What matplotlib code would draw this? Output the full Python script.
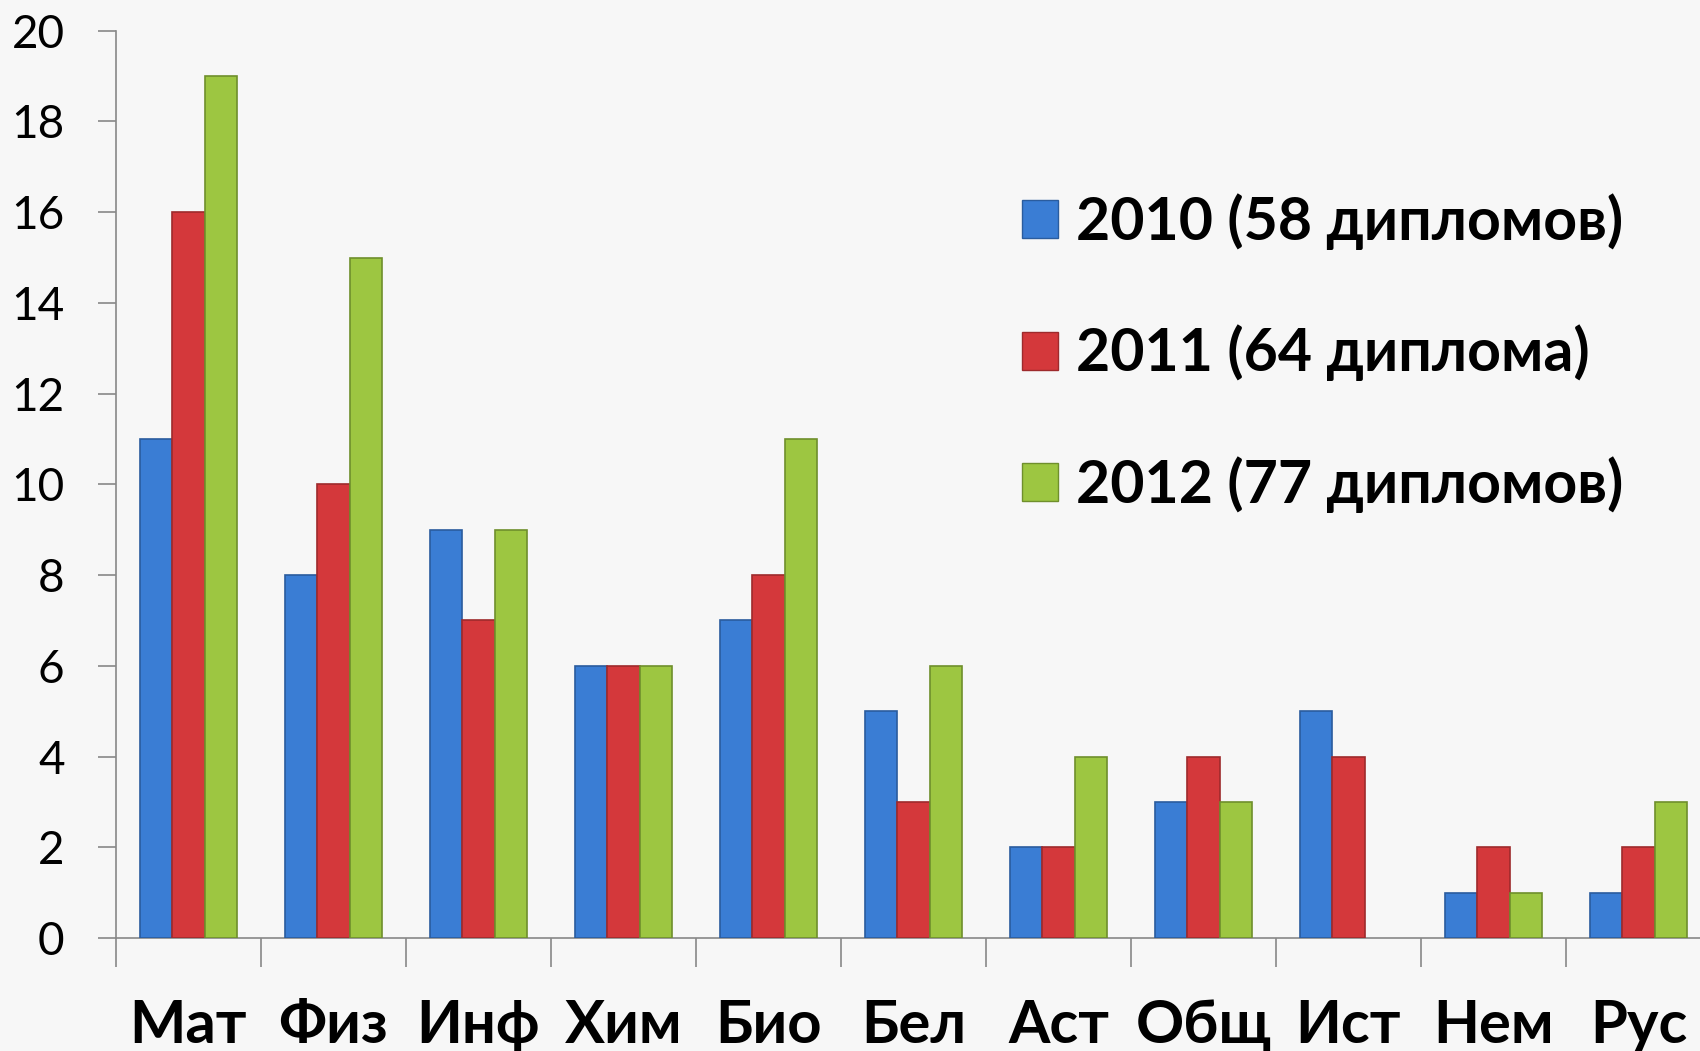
import numpy as np
import matplotlib
matplotlib.use('Agg')
import matplotlib.pyplot as plt
from matplotlib.patches import Patch

plt.rcParams['font.family'] = ['Lato', 'DejaVu Sans']

# subjects and number of diplomas per year
subjects = ['Мат', 'Физ', 'Инф', 'Хим', 'Био', 'Бел', 'Аст', 'Общ', 'Ист', 'Нем', 'Рус']
y2010 = [11, 8, 9, 6, 7, 5, 2, 3, 5, 1, 1]
y2011 = [16, 10, 7, 6, 8, 3, 2, 4, 4, 2, 2]
y2012 = [19, 15, 9, 6, 11, 6, 4, 3, 0, 1, 3]
series_labels = ['2010 (58 дипломов)', '2011 (64 диплома)', '2012 (77 дипломов)']

colors = ['#3a7dd4', '#d4383b', '#9dc641']
edges = ['#2a5c9e', '#9e2a2c', '#6f8f2c']

fig = plt.figure(figsize=(17, 10.51), dpi=100)
fig.patch.set_facecolor('#f7f7f7')
ax = fig.add_axes([116/1700, 113/1051, (1711-116)/1700, (938-30.7)/1051])
ax.set_facecolor('#f7f7f7')

x = np.arange(len(subjects))
w = 0.224
for k, vals in enumerate([y2010, y2011, y2012]):
    lw = [1.2 if v > 0 else 0 for v in vals]
    ax.bar(x + (k-1)*w, vals, width=w, color=colors[k],
           edgecolor=edges[k], linewidth=lw, zorder=3)

ax.set_xlim(-0.5, len(subjects)-0.5)
ax.set_ylim(0, 20)
ax.set_yticks(range(0, 21, 2))
ax.set_xticks(np.arange(len(subjects)+1) - 0.5, minor=False)
ax.set_xticklabels([])
ax.set_xticks(x, minor=True)
ax.set_xticklabels(subjects, minor=True, fontsize=43, fontweight='bold')
ax.tick_params(axis='x', which='minor', length=0, pad=44)
ax.tick_params(axis='x', which='major', length=21, color='#888888', width=1.2)
ax.tick_params(axis='y', length=13, color='#888888', width=1.2, labelsize=33, pad=24)

for s in ['top', 'right']:
    ax.spines[s].set_visible(False)
for s in ['left', 'bottom']:
    ax.spines[s].set_color('#888888')
    ax.spines[s].set_linewidth(1.2)

handles = [Patch(facecolor=colors[k], edgecolor=edges[k]) for k in range(3)]
fig.legend(handles, series_labels, loc='upper left',
           bbox_to_anchor=(1022/1700, 1-193/1051), frameon=False,
           prop={'size': 42.5, 'weight': 'bold'}, labelspacing=1.27,
           handlelength=0.61, handleheight=0.61, handletextpad=0.3,
           borderpad=0, borderaxespad=0)

fig.savefig('out.png', dpi=100, facecolor=fig.get_facecolor())
